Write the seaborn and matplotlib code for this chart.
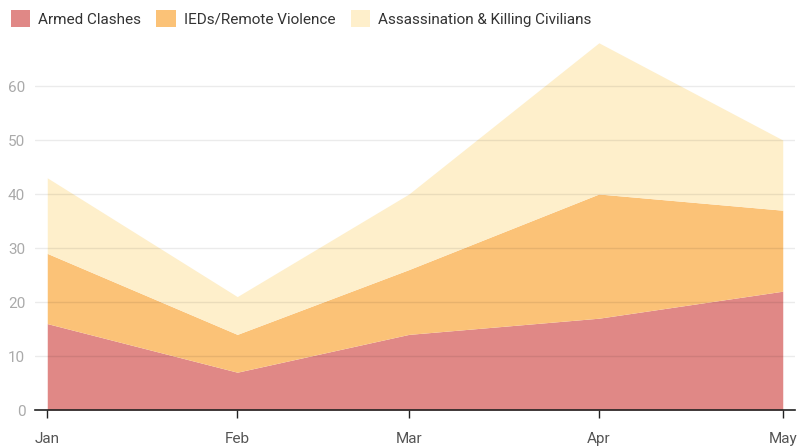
import matplotlib
matplotlib.use("Agg")
import matplotlib.pyplot as plt
import matplotlib.dates as mdates
from matplotlib.patches import Patch
import seaborn as sns
import pandas as pd
import numpy as np

months = ["2021-01-01", "2021-02-01", "2021-03-01", "2021-04-01", "2021-05-01"]
month_labels = ["Jan", "Feb", "Mar", "Apr", "May"]
armed_clashes = [16, 7, 14, 17, 22]
ieds_remote = [13, 7, 12, 23, 15]
assassination = [14, 7, 14, 28, 13]
series_names = ["Armed Clashes", "IEDs/Remote Violence", "Assassination & Killing Civilians"]
colors = ["#e08886", "#fbc277", "#feefcb"]
yticks = [0, 10, 20, 30, 40, 50, 60]

df = pd.DataFrame({
    "date": pd.to_datetime(months),
    series_names[0]: armed_clashes,
    series_names[1]: ieds_remote,
    series_names[2]: assassination,
})

sns.set_theme(style="white")
plt.rcParams["font.family"] = ["Roboto", "DejaVu Sans"]

fig = plt.figure(figsize=(8.11, 4.46), dpi=100)
ax = fig.add_axes([35/811, 36/446, 760/811, (410-26.6)/446])

ax.stackplot(df["date"], [df[s] for s in series_names], colors=colors, linewidth=0, zorder=1)

for y in yticks[1:]:
    ax.axhline(y, color="#000000", alpha=0.08, linewidth=1, zorder=2)

ax.set_ylim(0, 71)
ax.set_xlim(pd.Timestamp("2020-12-30"), pd.Timestamp("2021-05-03"))
ax.set_yticks(yticks)
ax.set_yticklabels([str(v) for v in yticks], color="#aaaaaa", fontsize=11)
ax.set_xticks(df["date"])
ax.set_xticklabels(month_labels, color="#555555", fontsize=11)
ax.tick_params(axis="y", length=0, pad=7)
ax.tick_params(axis="x", length=6, width=1, color="#222222", direction="out", pad=10, bottom=True)

for side in ["top", "right", "left"]:
    ax.spines[side].set_visible(False)
ax.spines["bottom"].set_color("#222222")
ax.spines["bottom"].set_linewidth(1.2)
ax.grid(False)

handles = [Patch(facecolor=c, edgecolor="none") for c in colors]
fig.legend(handles, series_names, loc="upper left", bbox_to_anchor=(-0.004, 1.008), ncol=3,
           frameon=False, fontsize=11, handlelength=1.3, handleheight=1.35,
           handletextpad=0.5, columnspacing=1.0, labelcolor="#333333")

fig.savefig("out.png", dpi=100)
